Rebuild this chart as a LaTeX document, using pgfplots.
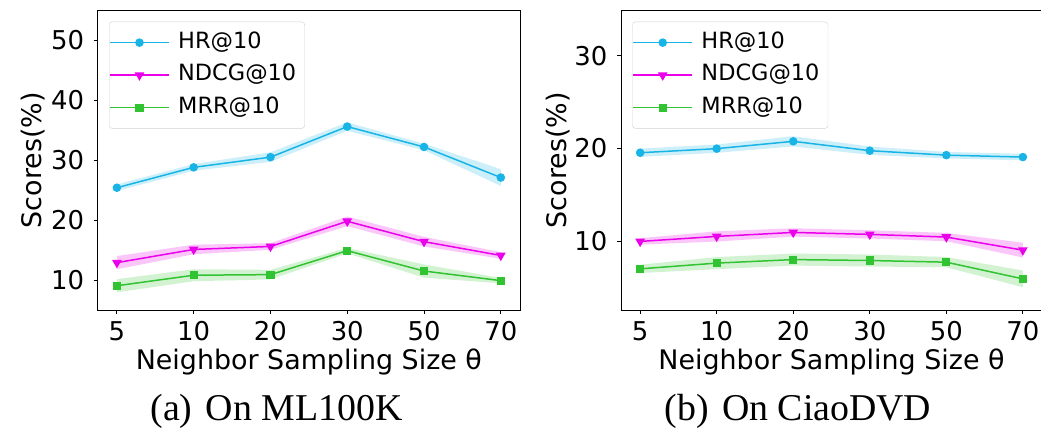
\documentclass[border=0pt]{standalone}
\usepackage{fontspec}
\setmainfont{DejaVu Sans}
\newfontfamily\capfont{Liberation Serif}
\usepackage{pgfplots}
\pgfplotsset{compat=1.18}
\usepackage{pgfplotstable}
\usepgfplotslibrary{fillbetween}

\definecolor{hrc}{RGB}{25,180,230}
\definecolor{ndc}{RGB}{235,0,235}
\definecolor{mrc}{RGB}{50,195,50}

\pgfplotstableread{
x hr hre nd nde mr mre
0 25.4 0.55 12.9 1.1 9.05 1.1
1 28.8 0.55 15.1 0.8 10.8 1.0
2 30.5 0.8 15.6 0.55 10.9 0.8
3 35.6 0.7 19.8 0.8 14.9 0.45
4 32.2 0.55 16.4 0.8 11.5 1.1
5 27.1 1.4 14.1 0.55 9.9 0.45
}\tabA

\pgfplotstableread{
x hr hre nd nde mr mre
0 19.53 0.45 9.96 0.35 7.00 0.45
1 19.97 0.45 10.50 0.55 7.62 0.65
2 20.76 0.55 10.93 0.45 8.00 0.65
3 19.75 0.45 10.72 0.45 7.90 0.65
4 19.27 0.35 10.43 0.45 7.72 0.55
5 19.06 0.35 9.02 0.8 5.92 0.9
}\tabB

\pgfplotsset{
  myaxis/.style={
    scale only axis, height=299.7bp,
    xmin=-0.25, xmax=5.25,
    xtick={0,1,2,3,4,5}, xticklabels={5,10,20,30,50,70},
    tick align=outside, tick pos=left, major tick length=4bp,
    every tick/.style={black, line width=0.8bp},
    axis line style={black, line width=0.8bp},
    ticklabel style={font=\fontsize{26}{30}\selectfont},
    /pgf/number format/assume math mode=true,
    xticklabel style={anchor=base, inner sep=0pt, yshift=-27bp},
    yticklabel style={anchor=east, inner sep=0pt, xshift=-9.5bp},
    label style={font=\fontsize{27}{32}\selectfont},
    xlabel={Neighbor Sampling Size θ},
    ylabel={Scores(\%)},
    legend cell align=left,
    legend image code/.code={\path (-6bp,0bp) -- (53bp,0bp);\draw[mark repeat=2,mark phase=2,##1] plot coordinates {(0bp,0bp) (23.5bp,0bp) (47bp,0bp)};},
    legend style={anchor=north west, draw=black!18, rounded corners=3bp, fill=white,
      font=\fontsize{22.5}{26}\selectfont, inner xsep=0bp, inner ysep=4.5bp, row sep=0bp,
      nodes={inner xsep=8.5bp, inner ysep=6bp, text height=16bp, text depth=4.5bp}},
  },
  hrstyle/.style={hrc, line width=1.5bp, mark=*, mark size=3.5bp, mark options={solid}},
  ndstyle/.style={ndc, line width=1.5bp, mark=triangle*, mark size=4.2bp, mark options={solid, rotate=180}},
  mrstyle/.style={mrc, line width=1.5bp, mark=square*, mark size=3.3bp, mark options={solid}},
}

\begin{document}
\begin{tikzpicture}
\begin{axis}[myaxis, at={(97.7bp,119bp)}, anchor=south west, width=422.3bp,
  ymin=5, ymax=55, ytick={10,20,30,40,50},
  xlabel style={at={(axis description cs:0.5,-0.2)}, anchor=base},
  ylabel style={at={(axis description cs:-0.132,0.5)}, anchor=base},
  legend style={at={(axis description cs:0.0268,0.962)}}]
\addplot[name path=aHU, draw=none, forget plot] table[x=x, y expr=\thisrow{hr}+\thisrow{hre}] {\tabA};
\addplot[name path=aHL, draw=none, forget plot] table[x=x, y expr=\thisrow{hr}-\thisrow{hre}] {\tabA};
\addplot[hrc, fill opacity=0.22, draw=none, forget plot] fill between[of=aHU and aHL];
\addplot[name path=aNU, draw=none, forget plot] table[x=x, y expr=\thisrow{nd}+\thisrow{nde}] {\tabA};
\addplot[name path=aNL, draw=none, forget plot] table[x=x, y expr=\thisrow{nd}-\thisrow{nde}] {\tabA};
\addplot[ndc, fill opacity=0.22, draw=none, forget plot] fill between[of=aNU and aNL];
\addplot[name path=aMU, draw=none, forget plot] table[x=x, y expr=\thisrow{mr}+\thisrow{mre}] {\tabA};
\addplot[name path=aML, draw=none, forget plot] table[x=x, y expr=\thisrow{mr}-\thisrow{mre}] {\tabA};
\addplot[mrc, fill opacity=0.22, draw=none, forget plot] fill between[of=aMU and aML];
\addplot[hrstyle] table[x=x, y=hr] {\tabA}; \addlegendentry{HR@10}
\addplot[ndstyle] table[x=x, y=nd] {\tabA}; \addlegendentry{NDCG@10}
\addplot[mrstyle] table[x=x, y=mr] {\tabA}; \addlegendentry{MRR@10}
\end{axis}

\begin{axis}[myaxis, at={(621bp,119bp)}, anchor=south west, width=421bp,
  ymin=2.56, ymax=34.9, ytick={10,20,30},
  xlabel style={at={(axis description cs:0.5,-0.2)}, anchor=base},
  ylabel style={at={(axis description cs:-0.1306,0.5)}, anchor=base},
  legend style={at={(axis description cs:0.0268,0.962)}}]
\addplot[name path=bHU, draw=none, forget plot] table[x=x, y expr=\thisrow{hr}+\thisrow{hre}] {\tabB};
\addplot[name path=bHL, draw=none, forget plot] table[x=x, y expr=\thisrow{hr}-\thisrow{hre}] {\tabB};
\addplot[hrc, fill opacity=0.22, draw=none, forget plot] fill between[of=bHU and bHL];
\addplot[name path=bNU, draw=none, forget plot] table[x=x, y expr=\thisrow{nd}+\thisrow{nde}] {\tabB};
\addplot[name path=bNL, draw=none, forget plot] table[x=x, y expr=\thisrow{nd}-\thisrow{nde}] {\tabB};
\addplot[ndc, fill opacity=0.22, draw=none, forget plot] fill between[of=bNU and bNL];
\addplot[name path=bMU, draw=none, forget plot] table[x=x, y expr=\thisrow{mr}+\thisrow{mre}] {\tabB};
\addplot[name path=bML, draw=none, forget plot] table[x=x, y expr=\thisrow{mr}-\thisrow{mre}] {\tabB};
\addplot[mrc, fill opacity=0.22, draw=none, forget plot] fill between[of=bMU and bML];
\addplot[hrstyle] table[x=x, y=hr] {\tabB}; \addlegendentry{HR@10}
\addplot[ndstyle] table[x=x, y=nd] {\tabB}; \addlegendentry{NDCG@10}
\addplot[mrstyle] table[x=x, y=mr] {\tabB}; \addlegendentry{MRR@10}
\end{axis}

\node[anchor=base, font=\capfont\fontsize{38}{44}\selectfont] at (276.5bp,9bp) {(a)\hspace{0.35em}On ML100K};
\node[anchor=base, font=\capfont\fontsize{38}{44}\selectfont] at (798bp,9bp) {(b)\hspace{0.35em}On CiaoDVD};
\pgfresetboundingbox
\path (0,0) rectangle (1041bp,429bp);
\end{tikzpicture}
\end{document}
